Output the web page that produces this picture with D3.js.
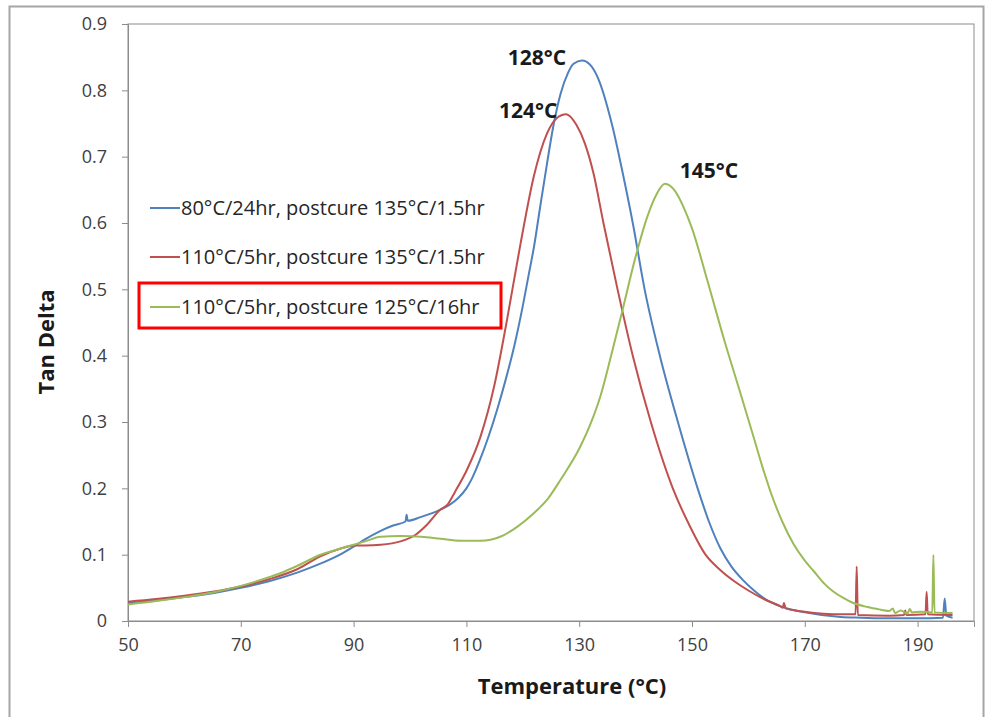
<!DOCTYPE html>
<html>
<head>
<meta charset="utf-8">
<script src="https://cdn.jsdelivr.net/npm/d3@7"></script>
<style>
  body { margin: 0; background: #fff; }
  text { font-family: "Open Sans", "Noto Sans", sans-serif; }
  .axis text { fill: #404040; }
  .axis path, .axis line { stroke: #8c8c8c; }
</style>
</head>
<body>
<svg class="canvas"></svg>
<script>
// series 1: 80°C/24hr, postcure 135°C/1.5hr
var tempBlue = [50, 55, 60, 65, 70, 75, 80, 84, 88, 90, 92, 94.8, 97, 99.2, 99.4, 99.6, 102, 105.4, 107, 108.5, 110, 111, 112.5, 114, 115.5, 117, 118.5, 120, 121, 122, 123, 124.3, 125.5, 126.7, 128, 129, 130.5, 132, 133.5, 135, 136, 137.1, 139.5, 141.6, 144.3, 147.5, 151, 153, 155, 157, 159, 161, 163, 165.7, 170, 176.4, 180, 185, 190, 194.5, 194.8, 195.1, 196.2];
var tanBlue  = [0.027, 0.031, 0.036, 0.042, 0.050, 0.060, 0.073, 0.086, 0.102, 0.112, 0.123, 0.136, 0.144, 0.150, 0.160, 0.151, 0.157, 0.168, 0.175, 0.185, 0.200, 0.215, 0.245, 0.280, 0.320, 0.365, 0.415, 0.475, 0.520, 0.565, 0.620, 0.690, 0.750, 0.795, 0.826, 0.840, 0.845, 0.838, 0.815, 0.775, 0.742, 0.700, 0.600, 0.500, 0.400, 0.300, 0.200, 0.150, 0.110, 0.082, 0.062, 0.046, 0.033, 0.022, 0.013, 0.006, 0.005, 0.004, 0.004, 0.005, 0.034, 0.008, 0.005];

// series 2: 110°C/5hr, postcure 135°C/1.5hr
var tempRed = [50, 55, 60, 65, 70, 75, 80, 84, 88, 90, 92, 94.8, 98.3, 101, 103, 105.4, 106.6, 108, 110.1, 112.5, 114.9, 117.2, 119.6, 122, 124.3, 126, 127.7, 129.5, 131, 132.5, 134.3, 136.8, 139.5, 142.7, 146.6, 149.5, 152.4, 155, 157.5, 160, 163, 165.7, 166.1, 166.3, 166.6, 170, 176.4, 179, 179.2, 179.4, 185, 187.6, 187.8, 188, 191.4, 191.6, 191.8, 196.2];
var tanRed  = [0.029, 0.033, 0.038, 0.044, 0.052, 0.063, 0.078, 0.097, 0.110, 0.114, 0.114, 0.115, 0.120, 0.130, 0.145, 0.168, 0.175, 0.195, 0.228, 0.278, 0.353, 0.454, 0.569, 0.672, 0.735, 0.758, 0.764, 0.748, 0.720, 0.676, 0.600, 0.500, 0.400, 0.300, 0.200, 0.145, 0.100, 0.077, 0.060, 0.046, 0.032, 0.022, 0.020, 0.027, 0.019, 0.014, 0.010, 0.010, 0.082, 0.009, 0.008, 0.009, 0.016, 0.009, 0.010, 0.044, 0.010, 0.009];

// series 3: 110°C/5hr, postcure 125°C/16hr
var tempGreen = [50, 55, 60, 65, 70, 75, 77, 80, 84, 88, 90, 92, 94.8, 98.3, 102, 105.4, 109, 112.5, 116, 119, 121.9, 124.5, 126.7, 130.2, 132, 133.8, 135.6, 137.6, 140, 142.1, 143.7, 145.2, 147, 148.5, 150, 152.7, 155.7, 158.6, 161, 162.5, 164, 166, 168, 170, 171.6, 173.5, 175.1, 177, 178.1, 181.1, 183.5, 185, 185.6, 186, 187, 188.2, 188.6, 189, 190.5, 192.6, 192.8, 193, 196.2];
var tanGreen  = [0.025, 0.030, 0.036, 0.043, 0.053, 0.066, 0.072, 0.083, 0.0995, 0.110, 0.115, 0.120, 0.127, 0.128, 0.127, 0.124, 0.121, 0.121, 0.127, 0.142, 0.162, 0.185, 0.213, 0.263, 0.297, 0.340, 0.398, 0.466, 0.549, 0.610, 0.643, 0.659, 0.648, 0.624, 0.592, 0.514, 0.424, 0.343, 0.275, 0.232, 0.193, 0.150, 0.116, 0.091, 0.075, 0.056, 0.044, 0.034, 0.029, 0.021, 0.017, 0.015, 0.019, 0.012, 0.016, 0.011, 0.018, 0.013, 0.014, 0.013, 0.0995, 0.013, 0.012];

var seriesNames = ["80°C/24hr, postcure 135°C/1.5hr", "110°C/5hr, postcure 135°C/1.5hr", "110°C/5hr, postcure 125°C/16hr"];
var seriesColors = ["#4f81bd", "#c0504d", "#9bbb59"];

var xTicks = [50, 70, 90, 110, 130, 150, 170, 190];
var yTicks = [0, 0.1, 0.2, 0.3, 0.4, 0.5, 0.6, 0.7, 0.8, 0.9];

var peakLabels = ["128°C", "124°C", "145°C"];
var peakTemps = [130.5, 127.7, 145.2];
var peakVals = [0.845, 0.764, 0.659];

function display() {
  var width = 846;
  var height = 597;

  var svg = d3.select(".canvas")
    .attr("width", 990)
    .attr("height", 717);

  // outer frame
  svg.append("rect")
    .attr("x", 9.5).attr("y", 6.5)
    .attr("width", 974).attr("height", 720)
    .attr("fill", "none")
    .attr("stroke", "#a6a6a6")
    .attr("stroke-width", 2);

  var canvas = svg.append("g")
    .attr("transform", "translate(128, 24)");

  var x = d3.scaleLinear().domain([50, 200]).range([0, width]);
  var y = d3.scaleLinear().domain([0, 0.9]).range([height, 0]);

  canvas.append("rect")
    .attr("width", width).attr("height", height)
    .attr("fill", "none")
    .attr("stroke", "#8c8c8c");

  canvas.append("g")
    .attr("class", "y axis")
    .call(d3.axisLeft(y).tickValues(yTicks).tickSize(6).tickPadding(15)
      .tickFormat(function(d) { return d === 0 ? "0" : d3.format(".1f")(d); }));

  canvas.append("g")
    .attr("class", "x axis")
    .attr("transform", "translate(0," + height + ")")
    .call(d3.axisBottom(x).tickValues(xTicks).tickSize(6).tickPadding(11));

  canvas.selectAll(".axis text").attr("font-size", 18);

  canvas.append("text")
    .attr("transform", "rotate(-90)")
    .attr("x", -318)
    .attr("y", -74)
    .attr("text-anchor", "middle")
    .attr("font-weight", "bold")
    .attr("font-size", 22)
    .attr("fill", "#1a1a1a")
    .text("Tan Delta");

  canvas.append("text")
    .attr("x", 444)
    .attr("y", height + 73)
    .attr("text-anchor", "middle")
    .attr("font-weight", "bold")
    .attr("font-size", 22)
    .attr("fill", "#1a1a1a")
    .text("Temperature (°C)");

  var temps = [tempBlue, tempRed, tempGreen];
  var vals = [tanBlue, tanRed, tanGreen];

  var line = d3.line()
    .x(function(d) { return x(d[0]); })
    .y(function(d) { return y(d[1]); })
    .curve(d3.curveMonotoneX);

  for (var i = 0; i < 3; i++) {
    var pts = d3.zip(temps[i], vals[i]);
    canvas.append("path")
      .datum(pts)
      .attr("fill", "none")
      .attr("stroke", seriesColors[i])
      .attr("stroke-width", 2)
      .attr("d", line);
  }

  // peak labels
  var labelDx = [-45, -38, 44];
  var labelDy = [5, 4, -6];
  for (var j = 0; j < 3; j++) {
    canvas.append("text")
      .attr("x", x(peakTemps[j]) + labelDx[j])
      .attr("y", y(peakVals[j]) + labelDy[j])
      .attr("text-anchor", "middle")
      .attr("font-weight", "bold")
      .attr("font-size", 21)
      .attr("fill", "#1a1a1a")
      .text(peakLabels[j]);
  }

  // legend
  var legend = svg.append("g");
  var rowY = [208, 257, 307];
  for (var k = 0; k < 3; k++) {
    legend.append("line")
      .attr("x1", 150).attr("x2", 180)
      .attr("y1", rowY[k]).attr("y2", rowY[k])
      .attr("stroke", seriesColors[k])
      .attr("stroke-width", 2);
    legend.append("text")
      .attr("x", 181)
      .attr("y", rowY[k])
      .attr("dy", "0.35em")
      .attr("font-size", 20)
      .attr("fill", "#262626")
      .text(seriesNames[k]);
  }

  legend.append("rect")
    .attr("x", 139).attr("y", 283)
    .attr("width", 362).attr("height", 45)
    .attr("fill", "none")
    .attr("stroke", "#ff0000")
    .attr("stroke-width", 3);
}

display();
</script>
</body>
</html>
